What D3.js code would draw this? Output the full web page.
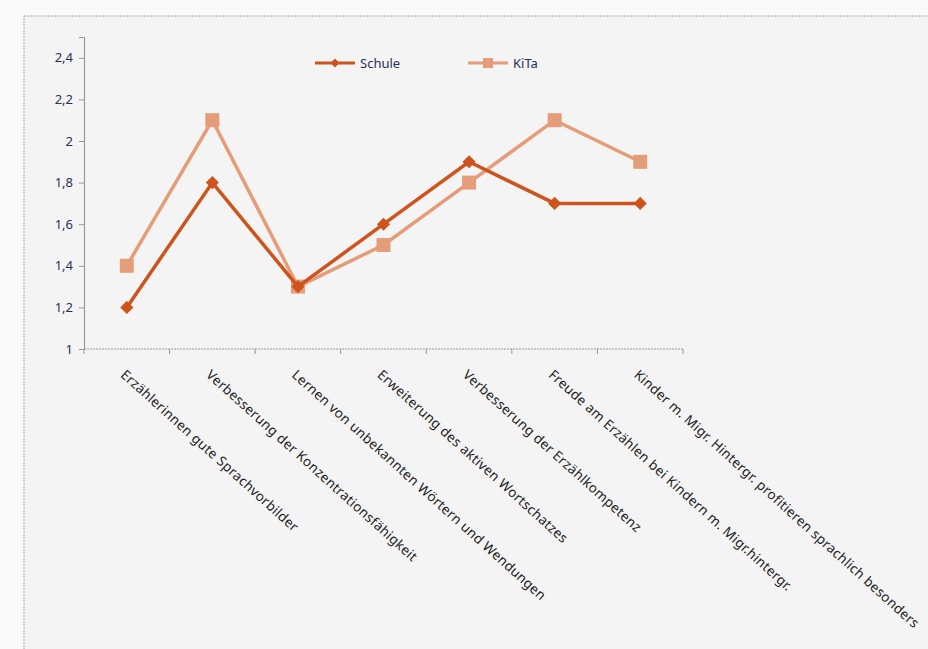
<!DOCTYPE html>
<html>
<head>
<meta charset="utf-8">
<script src="https://cdn.jsdelivr.net/npm/d3@7"></script>
<style>
  body { margin: 0; background: #fafafa; }
  text { font-family: "Noto Sans", sans-serif; }
</style>
</head>
<body>
<svg id="chart"></svg>
<script>
const WIDTH = 928;
const HEIGHT = 649;

const categories = [
  "Erzählerinnen gute Sprachvorbilder",
  "Verbesserung der Konzentrationsfähigkeit",
  "Lernen von unbekannten Wörtern und Wendungen",
  "Erweiterung des aktiven Wortschatzes",
  "Verbesserung der Erzählkompetenz",
  "Freude am Erzählen bei Kindern m. Migr.hintergr.",
  "Kinder m. Migr. Hintergr. profitieren sprachlich besonders"
];
const schule = [1.2, 1.8, 1.3, 1.6, 1.9, 1.7, 1.7];
const kita = [1.4, 2.1, 1.3, 1.5, 1.8, 2.1, 1.9];
const yTicks = [1, 1.2, 1.4, 1.6, 1.8, 2, 2.2, 2.4];

const SCHULE_COLOR = "#cf531c";
const KITA_COLOR = "#e59c78";

const MARGINS = {left: 84, right: 245, top: 37, bottom: 300};

const svg = d3.select("#chart")
  .attr("width", WIDTH)
  .attr("height", HEIGHT);

// scanned page frame
svg.append("rect")
  .attr("x", 24).attr("y", 16)
  .attr("width", WIDTH).attr("height", HEIGHT)
  .attr("fill", "#f4f4f4")
  .attr("stroke", "#a8a8a8")
  .attr("stroke-dasharray", "2,1");

const X_SCALE = d3.scaleBand()
  .domain(categories)
  .range([MARGINS.left, WIDTH - MARGINS.right]);

const Y_SCALE = d3.scaleLinear()
  .domain([1, 2.5])
  .range([HEIGHT - MARGINS.bottom, MARGINS.top]);

const fmt = d => String(d).replace(".", ",");

// y axis
const yAxis = svg.append("g")
  .attr("transform", `translate(${MARGINS.left},0)`)
  .call(d3.axisLeft(Y_SCALE).tickValues(yTicks).tickFormat(fmt).tickSize(5).tickPadding(6));
yAxis.select(".domain").attr("stroke", "#999").attr("stroke-width", 1.2);
yAxis.selectAll(".tick line").attr("stroke", "#999");
yAxis.selectAll(".tick text")
  .attr("font-size", 13)
  .attr("fill", "#2a2f5a");

// x axis with boundary ticks
const xAxis = svg.append("g")
  .attr("transform", `translate(0,${Y_SCALE(1)})`);
xAxis.append("line")
  .attr("x1", MARGINS.left).attr("x2", WIDTH - MARGINS.right)
  .attr("stroke", "#999").attr("stroke-width", 1.2)
  .attr("stroke-dasharray", "2,1");
xAxis.selectAll(".xtick")
  .data(categories.concat([null]))
  .enter()
  .append("line")
    .attr("x1", (d, i) => MARGINS.left + i * X_SCALE.step())
    .attr("x2", (d, i) => MARGINS.left + i * X_SCALE.step())
    .attr("y1", 0).attr("y2", 5)
    .attr("stroke", "#999");

// rotated category labels
svg.selectAll(".xlabel")
  .data(categories)
  .enter()
  .append("text")
    .attr("class", "xlabel")
    .attr("transform", d => {
      const cx = X_SCALE(d) + X_SCALE.bandwidth() / 2 - 7;
      return `translate(${cx},${Y_SCALE(1) + 27}) rotate(42)`;
    })
    .attr("font-size", 13.5)
    .attr("letter-spacing", 0.25)
    .attr("fill", "#222")
    .text(d => d);

const line = d3.line()
  .x((d, i) => X_SCALE(categories[i]) + X_SCALE.bandwidth() / 2)
  .y(d => Y_SCALE(d));

// KiTa series
svg.append("path")
  .datum(kita)
  .attr("d", line)
  .attr("fill", "none")
  .attr("stroke", KITA_COLOR)
  .attr("stroke-width", 3.5);
svg.selectAll(".kpt")
  .data(kita)
  .enter()
  .append("rect")
    .attr("x", (d, i) => X_SCALE(categories[i]) + X_SCALE.bandwidth() / 2 - 7)
    .attr("y", d => Y_SCALE(d) - 7)
    .attr("width", 14).attr("height", 14)
    .attr("fill", KITA_COLOR);

// Schule series
svg.append("path")
  .datum(schule)
  .attr("d", line)
  .attr("fill", "none")
  .attr("stroke", SCHULE_COLOR)
  .attr("stroke-width", 3.5);
const diamond = d3.symbol().type(d3.symbolDiamond2).size(110);
svg.selectAll(".spt")
  .data(schule)
  .enter()
  .append("path")
    .attr("d", diamond)
    .attr("transform", (d, i) => `translate(${X_SCALE(categories[i]) + X_SCALE.bandwidth() / 2},${Y_SCALE(d)})`)
    .attr("fill", SCHULE_COLOR);

// legend
const legendItems = [
  {name: "Schule", color: SCHULE_COLOR, x: 315, marker: "diamond"},
  {name: "KiTa", color: KITA_COLOR, x: 468, marker: "square"}
];
const legend = svg.selectAll(".legend")
  .data(legendItems)
  .enter()
  .append("g")
    .attr("transform", d => `translate(${d.x},63)`);
legend.append("line")
  .attr("x1", 0).attr("x2", 40)
  .attr("stroke", d => d.color)
  .attr("stroke-width", 3);
legend.each(function(d) {
  const g = d3.select(this);
  if (d.marker === "diamond") {
    g.append("path")
      .attr("d", d3.symbol().type(d3.symbolDiamond2).size(50))
      .attr("transform", "translate(20,0)")
      .attr("fill", d.color);
  } else {
    g.append("rect")
      .attr("x", 15).attr("y", -5)
      .attr("width", 10).attr("height", 10)
      .attr("fill", d.color);
  }
});
legend.append("text")
  .attr("x", 45).attr("y", 5)
  .attr("font-size", 13)
  .attr("fill", "#2a2f5a")
  .text(d => d.name);
</script>
</body>
</html>
